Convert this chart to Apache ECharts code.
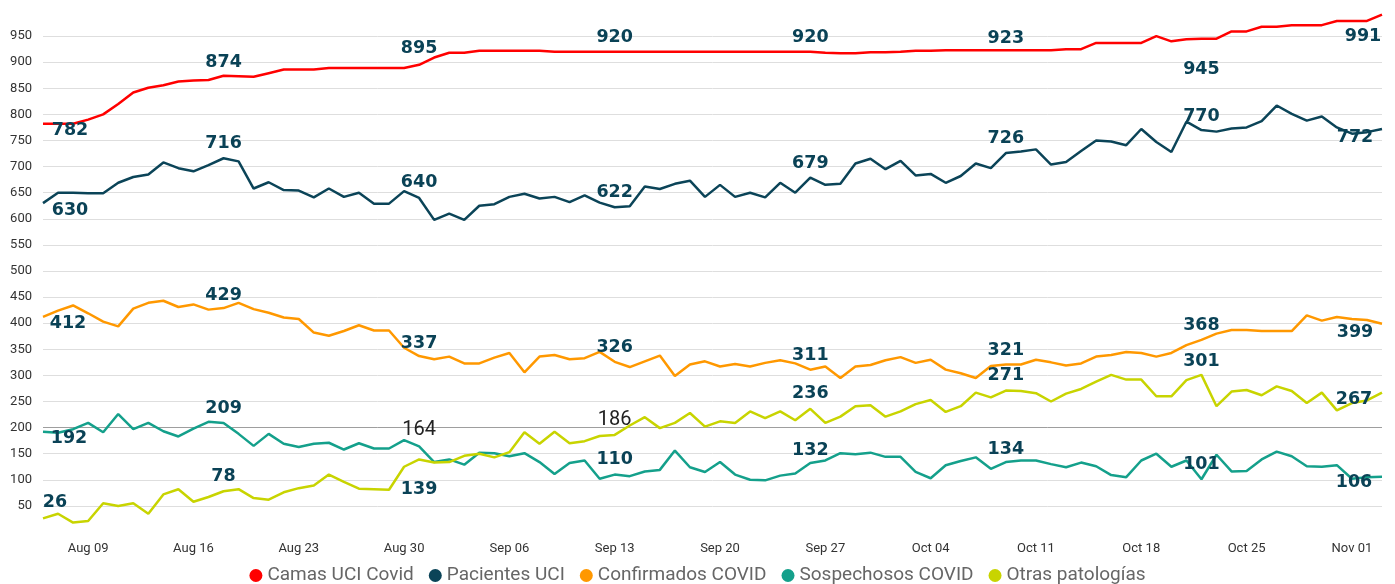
<!DOCTYPE html>
<html>
<head>
<meta charset="utf-8">
<script src="https://cdn.jsdelivr.net/npm/echarts@6/dist/echarts.min.js"></script>
<style>
  html, body { margin: 0; padding: 0; background: #fff; }
  #main { width: 1395px; height: 584px; }
</style>
</head>
<body>
<div id="main"></div>
<script>
// days from Aug 06 to Nov 03
var monthNames = ["Aug", "Sep", "Oct", "Nov"];
var monthDays = [31, 30, 31, 30];
var dates = [];
(function () {
  var m = 0, d = 6;
  for (var k = 0; k < 90; k++) {
    dates.push(monthNames[m] + " " + (d < 10 ? "0" + d : d));
    d++;
    if (d > monthDays[m]) { d = 1; m++; }
  }
})();

var camasUci = [782,782,782,790,800,820,842,851,856,863,865,866,874,873,872,879,886,886,886,889,
  889,889,889,889,889,895,909,918,918,922,922,922,922,922,920,920,920,920,920,920,
  920,920,920,920,920,920,920,920,920,920,920,920,918,917,917,919,919,920,922,922,
  923,923,923,923,923,923,923,923,925,925,937,937,937,937,950,940,944,945,945,959,
  959,968,968,971,971,971,979,979,979,991];

var pacientesUci = [630,650,650,649,649,669,680,685,708,697,691,703,716,710,658,670,655,654,641,658,
  642,650,629,629,653,640,598,610,598,625,628,642,648,639,642,632,645,631,622,624,
  662,657,667,673,642,665,642,650,641,669,650,679,665,667,706,715,695,711,683,686,
  669,682,706,697,726,729,733,704,709,730,750,748,741,772,747,728,786,770,767,773,
  775,787,817,801,788,796,775,763,766,772];

var confirmados = [412,424,434,419,403,394,428,439,443,431,436,426,429,439,427,420,411,408,382,376,
  385,396,386,386,353,337,331,336,323,323,334,343,306,336,339,331,333,345,326,316,
  327,338,299,321,327,317,322,317,324,329,323,311,317,295,317,320,329,335,324,330,
  311,304,295,318,321,321,330,325,319,323,336,339,345,343,336,343,358,368,380,387,
  387,385,385,385,415,405,412,408,406,399];

var sospechosos = [192,190,197,209,191,226,197,209,193,183,198,211,209,188,165,188,169,163,169,171,
  158,170,160,160,176,164,134,139,129,152,151,145,151,134,111,132,137,102,110,107,
  116,119,156,124,115,134,110,100,99,108,112,132,137,151,149,152,144,144,115,103,
  128,136,143,121,134,137,137,130,124,133,126,109,105,137,150,125,137,101,148,116,
  117,139,154,145,126,125,128,102,105,106];

var otras = [26,35,18,21,55,50,55,35,72,82,58,67,78,82,65,62,76,84,89,110,
  96,83,82,81,125,139,133,134,146,150,143,153,191,169,192,170,174,184,186,204,
  220,199,209,228,202,212,209,231,218,231,214,236,209,221,241,243,221,231,245,253,
  230,241,267,258,271,270,266,250,265,274,288,301,292,292,260,260,291,301,241,269,
  272,262,279,270,247,267,233,247,252,267];

// days that carry a value label
var labelDays = [0, 12, 25, 38, 51, 64, 77, 89];

var names = ["Camas UCI Covid", "Pacientes UCI", "Confirmados COVID", "Sospechosos COVID", "Otras patologías"];
var colors = ["#ff0000", "#0b4458", "#ff9800", "#14a08b", "#c8d400"];
var values = [camasUci, pacientesUci, confirmados, sospechosos, otras];

// label placement (px offsets from the point)
var labelOffsets = [
  [[27,7],[0,-13],[0,-16],[0,-14],[0,-14],[0,-12],[0,31],[-19,22]],
  [[27,7.5],[0,-15],[0,-15],[0,-15],[0,-14],[0,-15],[0,-14],[-27,8]],
  [[25,7],[0,-12.5],[0,-13],[0,-14],[0,-14],[0,-14],[0,-14.5],[-27,9]],
  [[26,7],[0,-14],[0,-16],[0,-15],[0,-13],[0,-13],[0,-14.5],[-28,6]],
  [[12,-15.5],[0,-15],[0,30],[0,-15],[0,-15],[0,-15],[0,-13.5],[-28,7]]
];
// labels drawn in the plain style
var plainLabels = { "3-2": true, "4-3": true };

var boldLabel = { fontFamily: "DejaVu Sans", fontWeight: "bold", fontSize: 17.5, color: "#0a4256" };
var plainLabel = { fontFamily: "Roboto", fontWeight: "normal", fontSize: 20, color: "#222" };

var series = names.map(function (name, s) {
  var points = labelDays.map(function (day, k) {
    var style = plainLabels[s + "-" + k] ? plainLabel : boldLabel;
    return {
      coord: [dates[day], values[s][day]],
      value: values[s][day],
      label: Object.assign({ show: true, position: "inside", offset: labelOffsets[s][k] }, style)
    };
  });
  return {
    name: name,
    type: "line",
    data: values[s],
    symbol: "none",
    lineStyle: { width: 2.5, color: colors[s] },
    itemStyle: { color: colors[s] },
    markPoint: {
      symbol: "circle",
      symbolSize: 1,
      itemStyle: { color: "rgba(0,0,0,0)" },
      z: 10,
      data: points
    }
  };
});

var gridColors = [];
for (var t = 0; t <= 20; t++) {
  if (t === 0 || t === 20) gridColors.push("rgba(0,0,0,0)");
  else if (t === 4) gridColors.push("#9e9e9e");
  else gridColors.push("#dedede");
}

var chart = echarts.init(document.getElementById("main"));
var option = {
  animation: false,
  color: colors,
  grid: { left: 43, right: 13, top: 10, bottom: 52 },
  legend: {
    top: 561,
    left: "center",
    icon: "circle",
    itemWidth: 13,
    itemHeight: 13,
    itemGap: 15,
    textStyle: { fontFamily: "Roboto", fontSize: 19, color: "#666" },
    data: names
  },
  xAxis: {
    type: "category",
    boundaryGap: false,
    data: dates,
    axisLine: { show: false },
    axisTick: { show: false },
    axisLabel: {
      interval: function (idx) { return (idx - 3) % 7 === 0; },
      margin: 10,
      fontFamily: "Roboto",
      fontSize: 13,
      color: "#333"
    }
  },
  yAxis: {
    type: "value",
    min: 0,
    max: 1000,
    interval: 50,
    axisLine: { show: false },
    axisTick: { show: false },
    axisLabel: {
      showMinLabel: false,
      showMaxLabel: false,
      margin: 11,
      fontFamily: "Roboto",
      fontSize: 13,
      color: "#333"
    },
    splitLine: { lineStyle: { color: gridColors, width: 1 } }
  },
  series: series
};
chart.setOption(option);
</script>
</body>
</html>
